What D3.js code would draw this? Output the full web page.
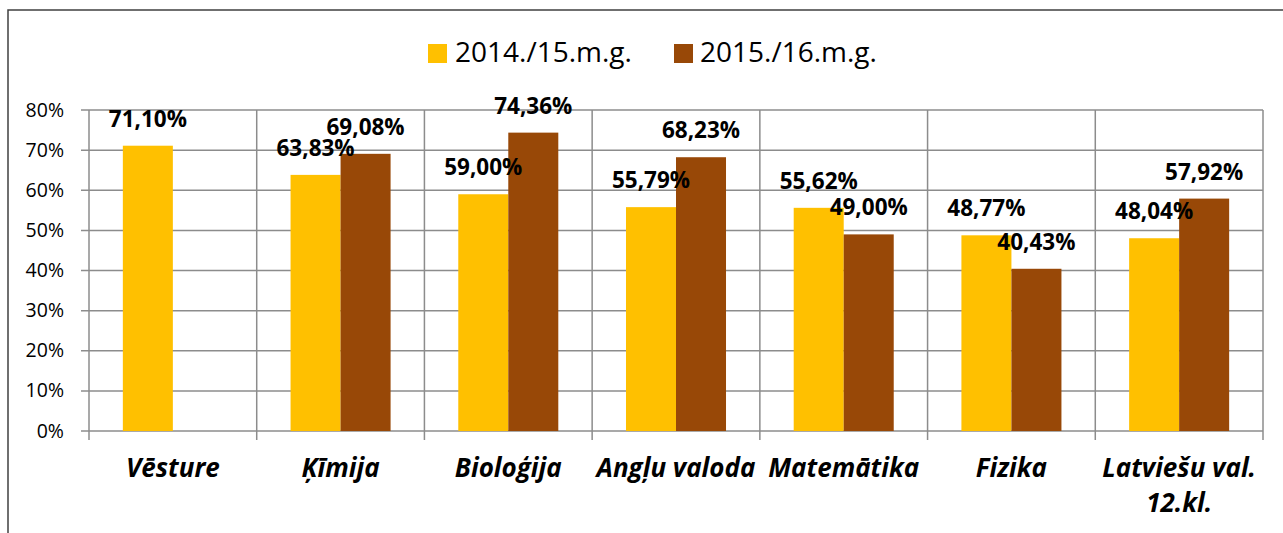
<!DOCTYPE html>
<html><head><meta charset="utf-8">
<script src="https://cdn.jsdelivr.net/npm/d3@7"></script>
<style>
html,body{margin:0;padding:0;background:#fff;}
svg{display:block;font-family:"Open Sans",sans-serif;}
</style></head>
<body>
<svg id="c" width="1283" height="533"></svg>
<script>
const categories = ["Vēsture","Ķīmija","Bioloģija","Angļu valoda","Matemātika","Fizika","Latviešu val.\n12.kl."];
const seriesNames = ["2014./15.m.g.","2015./16.m.g."];
const values2014 = [71.10,63.83,59.00,55.79,55.62,48.77,48.04];
const values2015 = [null,69.08,74.36,68.23,49.00,40.43,57.92];
const yTicks = [0,10,20,30,40,50,60,70,80];
const colors = ["#FFC000","#984807"];

const svg = d3.select("#c");
const m = {left:89, right:1263, top:110, bottom:431};
const loc = d3.formatLocale({decimal:",", thousands:" ", grouping:[3], currency:["",""]});
const fmt = v => loc.format(".2f")(v) + "%";

// frame
svg.append("path").attr("d","M8,533 L8,10 L1283,10").attr("fill","none").attr("stroke","#404040").attr("stroke-width",1.5);

const x = d3.scaleBand().domain(categories).range([m.left,m.right]).padding(0);
const inner = d3.scaleBand().domain(seriesNames).range([x.bandwidth()*0.2018, x.bandwidth()*0.7982]).padding(0);
const y = d3.scaleLinear().domain([0,80]).range([m.bottom,m.top]);

const grid = "#8c8c8c";
svg.append("g").selectAll("line").data(yTicks).join("line")
  .attr("x1",m.left-8).attr("x2",m.right).attr("y1",d=>y(d)).attr("y2",d=>y(d))
  .attr("stroke",grid).attr("stroke-width",1.5);
const bounds = categories.map(c=>x(c)).concat([m.right]);
svg.append("g").selectAll("line").data(bounds).join("line")
  .attr("x1",d=>d).attr("x2",d=>d).attr("y1",m.top).attr("y2",m.bottom+9)
  .attr("stroke",grid).attr("stroke-width",1.5);

svg.append("g").selectAll("text").data(yTicks).join("text")
  .attr("x",m.left-25).attr("y",d=>y(d)+6.5).attr("text-anchor","end")
  .attr("font-size",19.5).attr("fill","#000").text(d=>d+"%");

const rows = categories.map((c,i)=>({c, vals:[values2014[i],values2015[i]]}));
const gb = svg.append("g");
rows.forEach(r=>{
  r.vals.forEach((v,j)=>{
    if(v==null) return;
    const bx = x(r.c)+inner(seriesNames[j]);
    gb.append("rect").attr("x",bx).attr("width",inner.bandwidth())
      .attr("y",y(v)).attr("height",y(0)-y(v)).attr("fill",colors[j]);
  });
});
rows.forEach(r=>{
  r.vals.forEach((v,j)=>{
    if(v==null) return;
    const cx = x(r.c)+inner(seriesNames[j])+inner.bandwidth()/2;
    svg.append("text").attr("x",cx).attr("y",y(v)-19).attr("text-anchor","middle")
      .attr("font-size",22.5).attr("font-weight","bold").attr("fill","#000").text(fmt(v));
  });
});

categories.forEach(c=>{
  const lines = c.split("\n");
  const t = svg.append("text").attr("text-anchor","middle").attr("font-size",26)
    .attr("font-weight","bold").attr("font-style","italic").attr("fill","#000");
  lines.forEach((l,i)=>{
    t.append("tspan").attr("x",x(c)+x.bandwidth()/2).attr("y",m.bottom+46+i*35).text(l);
  });
});

const lg = [{x:428,tx:455},{x:674,tx:700}];
seriesNames.forEach((s,i)=>{
  svg.append("rect").attr("x",lg[i].x).attr("y",44).attr("width",19).attr("height",19).attr("fill",colors[i]);
  svg.append("text").attr("x",lg[i].tx).attr("y",62).attr("font-size",28).attr("fill","#000").text(s);
});
</script>
</body></html>
